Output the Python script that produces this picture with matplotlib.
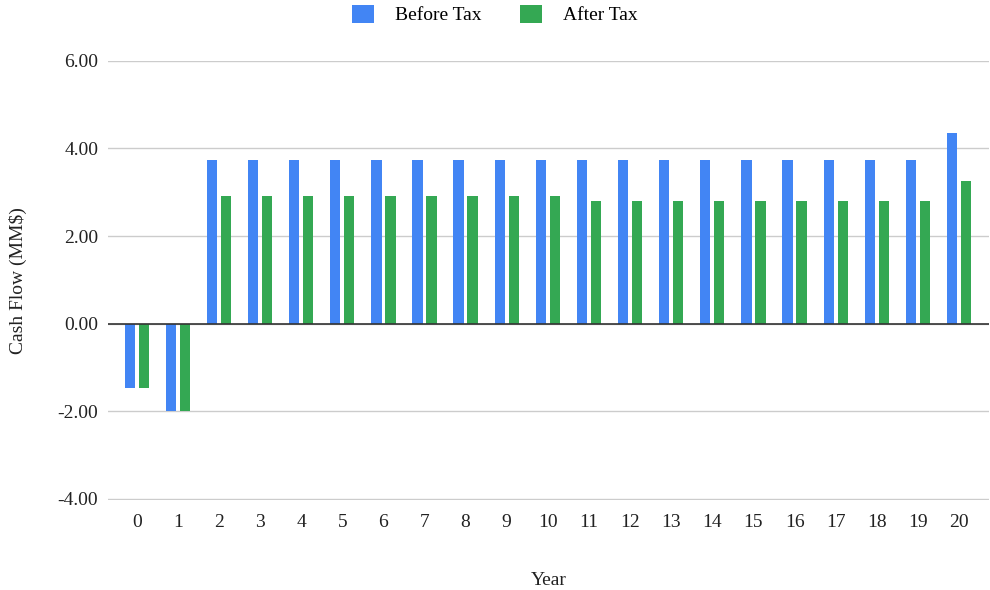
import matplotlib.pyplot as plt
import numpy as np

years = list(range(21))
before_tax = [-1.47, -1.99] + [3.74] * 18 + [4.34]
after_tax = [-1.47, -1.99] + [2.92] * 9 + [2.81] * 9 + [3.25]

blue = "#4285F4"
green = "#34A853"

plt.rcParams["font.family"] = ["Liberation Serif", "DejaVu Serif"]

fig = plt.figure(figsize=(9.9, 5.9), dpi=100)
ax = fig.add_axes([0.109, 0.153, 0.89, 0.744])

x = np.arange(len(years))
w = 0.25
ax.bar(x - 0.17, before_tax, w, color=blue, label="Before Tax", zorder=3)
ax.bar(x + 0.17, after_tax, w, color=green, label="After Tax", zorder=3)

ax.set_ylim(-4.02, 6)
ax.set_xlim(-0.7, 20.73)
ax.set_yticks([-4, -2, 0, 2, 4, 6])
ax.set_yticklabels([f"{v:.2f}" for v in [-4, -2, 0, 2, 4, 6]])
ax.set_xticks(x)
ax.set_xticklabels([str(y) for y in years])
ax.grid(axis="y", color="#cccccc", linewidth=1, zorder=0)
ax.axhline(0, color="#333333", linewidth=1.2, zorder=4)
for s in ax.spines.values():
    s.set_visible(False)
ax.tick_params(length=0, labelsize=14, colors="#222222")
ax.tick_params(axis="y", pad=7)
ax.tick_params(axis="x", pad=10)

ax.set_xlabel("Year", fontsize=14, color="#222222", labelpad=30)
ax.set_ylabel("Cash Flow (MM$)", fontsize=14, color="#222222", labelpad=22)

fig.legend(loc="upper center", bbox_to_anchor=(0.5, 1.022), ncol=2, frameon=False,
           fontsize=14, handlelength=1.1, handleheight=1.1, columnspacing=2.0,
           handletextpad=1.1)

fig.savefig("out.png")
